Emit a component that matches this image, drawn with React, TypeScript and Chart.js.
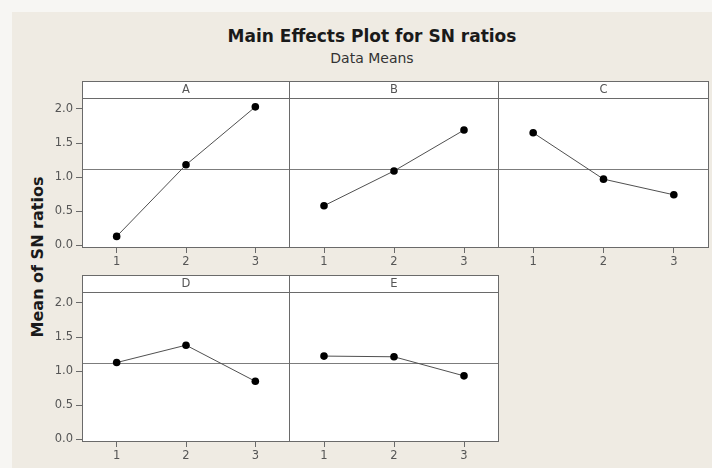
import React, { useEffect, useRef } from "react";
import { Chart, registerables } from "chart.js";

Chart.register(...registerables);

// ---- data ----
const levels = ["1", "2", "3"];
const yTickValues = [0, 0.5, 1.0, 1.5, 2.0];
const factorA = [0.13, 1.18, 2.03];
const factorB = [0.58, 1.09, 1.69];
const factorC = [1.65, 0.97, 0.74];
const factorD = [1.125, 1.38, 0.85];
const factorE = [1.22, 1.21, 0.93];
const grandMean = 1.12;
const yMin = -0.04;
const yMax = 2.16;

const FONT = "'DejaVu Sans', Tahoma, sans-serif";
const STRIP = 17;
const XAXIS_H = 22;
const YAXIS_W = 42;
const PLOT_H = 150;

const framePlugin = {
  id: "panelFrame",
  beforeDraw(chart: any, _args: any, opts: any) {
    const { ctx, chartArea: a } = chart;
    ctx.save();
    ctx.fillStyle = "#ffffff";
    ctx.fillRect(a.left, a.top - STRIP, a.right - a.left, a.bottom - a.top + STRIP);
    const y = Math.round(chart.scales.y.getPixelForValue(opts.mean)) + 0.5;
    ctx.strokeStyle = "#7c7c7c";
    ctx.lineWidth = 1;
    ctx.beginPath();
    ctx.moveTo(a.left, y);
    ctx.lineTo(a.right, y);
    ctx.stroke();
    ctx.restore();
  },
  afterDraw(chart: any, _args: any, opts: any) {
    const { ctx, chartArea: a } = chart;
    ctx.save();
    ctx.strokeStyle = "#6a6a6a";
    ctx.lineWidth = 1;
    const l = Math.round(a.left) + 0.5;
    const r = Math.round(a.right) - 0.5;
    const t = Math.round(a.top - STRIP) + 0.5;
    const b = Math.round(a.bottom) - 0.5;
    ctx.strokeRect(l, t, r - l, b - t);
    ctx.beginPath();
    ctx.moveTo(l, Math.round(a.top) + 0.5);
    ctx.lineTo(r, Math.round(a.top) + 0.5);
    ctx.stroke();
    ctx.fillStyle = "#555555";
    ctx.font = `11.5px ${FONT}`;
    ctx.textAlign = "center";
    ctx.textBaseline = "middle";
    ctx.fillText(opts.label, (a.left + a.right) / 2, a.top - STRIP / 2 + 0.5);
    ctx.restore();
  },
};

type PanelProps = {
  label: string;
  values: number[];
  showY: boolean;
  left: number;
  top: number;
  width: number;
};

function Panel({ label, values, showY, left, top, width }: PanelProps) {
  const ref = useRef<HTMLCanvasElement | null>(null);
  const height = STRIP + PLOT_H + XAXIS_H;
  useEffect(() => {
    if (!ref.current) return;
    const chart = new Chart(ref.current, {
      type: "line",
      data: {
        labels: levels,
        datasets: [
          {
            data: values,
            borderColor: "#505050",
            borderWidth: 1,
            pointRadius: 3.8,
            pointBackgroundColor: "#000000",
            pointBorderColor: "#000000",
            pointBorderWidth: 0,
            tension: 0,
            clip: false as any,
          },
        ],
      },
      options: {
        responsive: false,
        animation: false,
        devicePixelRatio: 1,
        layout: {
          autoPadding: false,
          padding: { top: STRIP, left: 0, right: 0, bottom: 0 },
        },
        plugins: {
          legend: { display: false },
          tooltip: { enabled: false },
          panelFrame: { label, mean: grandMean },
        } as any,
        scales: {
          x: {
            type: "category",
            offset: true,
            grid: {
              display: true,
              drawOnChartArea: false,
              drawTicks: true,
              tickLength: 5,
              color: "#6a6a6a",
            },
            border: { display: false },
            ticks: {
              color: "#555555",
              font: { size: 11.5, family: FONT },
              padding: 2,
              maxRotation: 0,
            },
            afterFit: (s: any) => {
              s.height = XAXIS_H;
            },
          },
          y: {
            type: "linear",
            display: showY,
            min: yMin,
            max: yMax,
            afterBuildTicks: (s: any) => {
              s.ticks = yTickValues.map((v) => ({ value: v }));
            },
            grid: {
              display: true,
              drawOnChartArea: false,
              drawTicks: true,
              tickLength: 6,
              color: "#6a6a6a",
            },
            border: { display: false },
            ticks: {
              color: "#555555",
              font: { size: 11.5, family: FONT },
              padding: 3,
              callback: (v: any) => Number(v).toFixed(1),
            },
            afterFit: (s: any) => {
              s.width = showY ? YAXIS_W : 0;
            },
          },
        },
      },
      plugins: [framePlugin as any],
    });
    return () => chart.destroy();
  }, [label, values, showY]);

  return (
    <canvas
      ref={ref}
      width={width}
      height={height}
      style={{ position: "absolute", left, top, width, height }}
    />
  );
}

export default function App() {
  return (
    <div
      style={{
        position: "absolute",
        left: 0,
        top: 0,
        width: 712,
        height: 468,
        background: "#f7f6f3",
        overflow: "hidden",
        fontFamily: FONT,
      }}
    >
      <div
        style={{
          position: "absolute",
          left: 12,
          top: 12,
          right: 0,
          bottom: 0,
          background: "#efebe3",
        }}
      />
      <div
        style={{
          position: "absolute",
          left: 122,
          width: 500,
          top: 26,
          textAlign: "center",
          fontWeight: "bold",
          fontSize: 17,
          color: "#1a1a1a",
          lineHeight: "20px",
        }}
      >
        Main Effects Plot for SN ratios
      </div>
      <div
        style={{
          position: "absolute",
          left: 172,
          width: 400,
          top: 50,
          textAlign: "center",
          fontSize: 14,
          color: "#333333",
          lineHeight: "16px",
        }}
      >
        Data Means
      </div>
      <div
        style={{
          position: "absolute",
          left: 37,
          top: 257,
          transform: "translate(-50%, -50%) rotate(-90deg)",
          whiteSpace: "nowrap",
          fontWeight: "bold",
          fontSize: 16,
          color: "#1a1a1a",
        }}
      >
        Mean of SN ratios
      </div>
      <Panel label="A" values={factorA} showY={true} left={40} top={81} width={250} />
      <Panel label="B" values={factorB} showY={false} left={289} top={81} width={210} />
      <Panel label="C" values={factorC} showY={false} left={498} top={81} width={211} />
      <Panel label="D" values={factorD} showY={true} left={40} top={275} width={250} />
      <Panel label="E" values={factorE} showY={false} left={289} top={275} width={210} />
    </div>
  );
}
